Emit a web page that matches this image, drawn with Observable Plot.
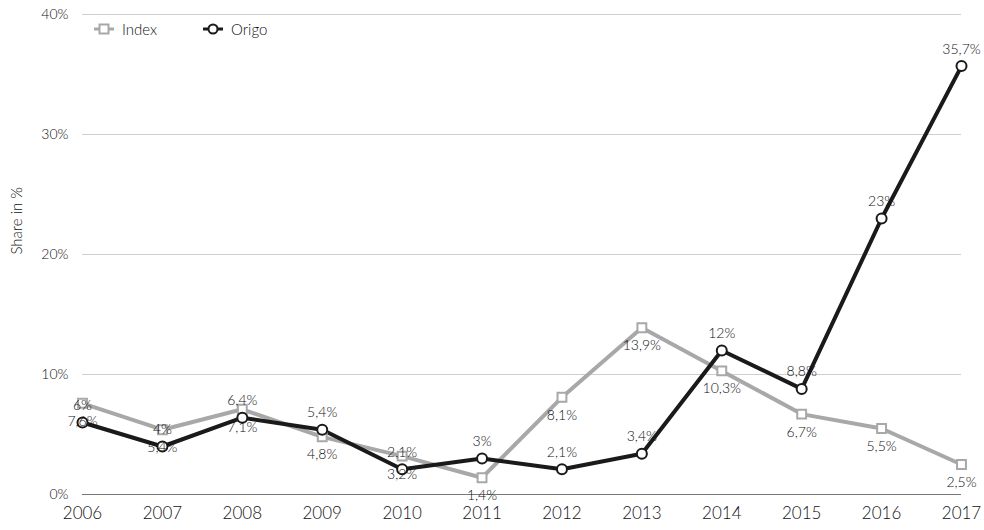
<!DOCTYPE html>
<html>
<head>
<meta charset="utf-8">
<script src="https://cdn.jsdelivr.net/npm/d3@7"></script>
<script src="https://cdn.jsdelivr.net/npm/@observablehq/plot@0.6"></script>
<style>
  html, body { margin: 0; padding: 0; background: #fff; }
  #wrap { position: relative; width: 984px; height: 530px; font-family: Lato, "Open Sans", sans-serif; font-weight: 300; }
  #legend { position: absolute; left: 94px; top: 20px; display: flex; align-items: center; font-size: 15px; color: #111; }
  #legend .item { display: flex; align-items: center; margin-right: 46px; }
  #legend svg { margin-right: 8px; }
</style>
</head>
<body>
<div id="wrap">
  <div id="chart"></div>
  <div id="legend">
    <div class="item"><svg width="20" height="14"><line x1="0" y1="7" x2="20" y2="7" stroke="#a8a8a8" stroke-width="3"/><rect x="5.5" y="2.5" width="9" height="9" fill="#fff" stroke="#a8a8a8" stroke-width="2"/></svg>Index</div>
    <div class="item"><svg width="20" height="14"><line x1="0" y1="7" x2="20" y2="7" stroke="#1a1a1a" stroke-width="3"/><circle cx="10" cy="7" r="4.5" fill="#fff" stroke="#1a1a1a" stroke-width="2"/></svg>Origo</div>
  </div>
</div>
<script>
const years = [2006, 2007, 2008, 2009, 2010, 2011, 2012, 2013, 2014, 2015, 2016, 2017];
const indexValues = [7.6, 5.4, 7.1, 4.8, 3.2, 1.4, 8.1, 13.9, 10.3, 6.7, 5.5, 2.5];
const origoValues = [6, 4, 6.4, 5.4, 2.1, 3, 2.1, 3.4, 12, 8.8, 23, 35.7];
const yTicks = [0, 10, 20, 30, 40];
const yLabel = "Share in %";

const fmt = v => String(v).replace(".", ",") + "%";
const indexData = years.map((y, i) => ({year: y, value: indexValues[i]}));
const origoData = years.map((y, i) => ({year: y, value: origoValues[i]}));

const indexColor = "#a8a8a8";
const origoColor = "#1a1a1a";
const textColor = "#111";

const chart = Plot.plot({
  width: 984,
  height: 530,
  marginLeft: 82,
  marginRight: 23,
  marginTop: 14,
  marginBottom: 36,
  style: {fontFamily: "Lato, 'Open Sans', sans-serif", fontWeight: 300, background: "#fff", color: textColor},
  x: {domain: [2006, 2017], label: null},
  y: {domain: [0, 40], label: null},
  marks: [
    Plot.ruleY(yTicks.filter(d => d > 0), {stroke: "#cfcfcf", strokeWidth: 1}),
    Plot.ruleY([0], {stroke: "#777", strokeWidth: 1.2}),
    Plot.axisX({ticks: years, tickFormat: d => String(d), tickSize: 0, tickPadding: 12, fontSize: 17, fill: textColor, label: null}),
    Plot.axisY({ticks: yTicks, tickFormat: d => d + "%", tickSize: 0, tickPadding: 14, fontSize: 14, fill: textColor, label: null}),
    Plot.text([yLabel], {frameAnchor: "left", text: d => d, rotate: -90, dx: -65, fontSize: 15, fill: textColor}),
    Plot.line(indexData, {x: "year", y: "value", stroke: indexColor, strokeWidth: 4}),
    Plot.line(origoData, {x: "year", y: "value", stroke: origoColor, strokeWidth: 4}),
    Plot.dot(indexData, {x: "year", y: "value", symbol: "square", r: 5, fill: "#fff", stroke: indexColor, strokeWidth: 2}),
    Plot.dot(origoData, {x: "year", y: "value", symbol: "circle", r: 5, fill: "#fff", stroke: origoColor, strokeWidth: 2}),
    Plot.text(indexData, {x: "year", y: "value", text: d => fmt(d.value), dy: 18, fontSize: 14, fill: textColor}),
    Plot.text(origoData, {x: "year", y: "value", text: d => fmt(d.value), dy: -17, fontSize: 14, fill: textColor})
  ]
});
document.getElementById("chart").appendChild(chart);
</script>
</body>
</html>
